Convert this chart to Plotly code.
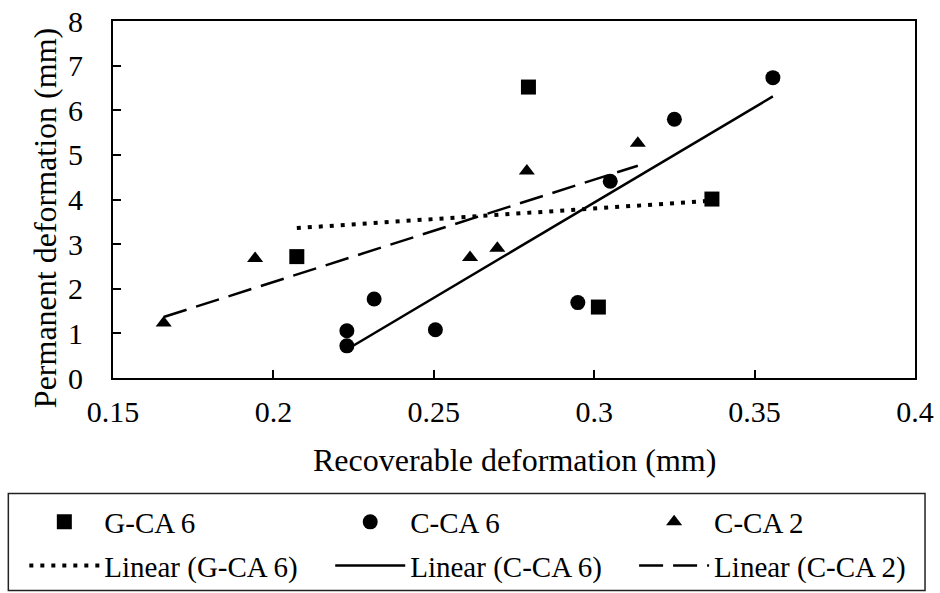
import numpy as np
import plotly.graph_objects as go

# values
gca6_x = [0.2073, 0.2795, 0.3013, 0.3367]
gca6_y = [2.72, 6.52, 1.59, 4.01]

cca6_x = [0.2229, 0.2229, 0.2314, 0.2505, 0.2949, 0.3050, 0.3250, 0.3557]
cca6_y = [1.06, 0.72, 1.77, 1.08, 1.69, 4.41, 5.80, 6.73]

cca2_x = [0.1658, 0.1943, 0.2613, 0.2698, 0.2790, 0.3136]
cca2_y = [1.23, 2.68, 2.70, 2.91, 4.64, 5.26]

x_ticks = [0.15, 0.2, 0.25, 0.3, 0.35, 0.4]
y_ticks = [0, 1, 2, 3, 4, 5, 6, 7, 8]

FONT = "Liberation Serif, Times New Roman, serif"


def trend(xs, ys):
    # least squares line over the range of the series, like an Excel linear trendline
    k, b = np.polyfit(xs, ys, 1)
    xe = [min(xs), max(xs)]
    return xe, [k * v + b for v in xe]


series = [
    ("G-CA 6", gca6_x, gca6_y, "square", 15, dict(width=4, dash="4px,7px")),
    ("C-CA 6", cca6_x, cca6_y, "circle", 15, dict(width=2.5)),
    ("C-CA 2", cca2_x, cca2_y, "triangle-up", 14, dict(width=2.5, dash="24px,10px")),
]
legend_ids = ["legend", "legend2", "legend3"]

fig = go.Figure()

# one small vertical legend per series (marker on top, trendline below)
for i, (name, xs, ys, sym, sz, ln) in enumerate(series):
    fig.add_trace(go.Scatter(x=xs, y=ys, mode="markers", name=name,
                             legend=legend_ids[i], legendgroup="m%d" % i,
                             marker=dict(symbol=sym, size=sz, color="black")))
    tx, ty = trend(xs, ys)
    fig.add_trace(go.Scatter(x=tx, y=ty, mode="lines", name="Linear (%s)" % name,
                             legend=legend_ids[i], legendgroup="l%d" % i,
                             line=dict(color="black", **ln)))

axis_common = dict(showline=True, linecolor="black", linewidth=2, mirror=True,
                   ticks="inside", ticklen=8, tickwidth=2, tickcolor="black",
                   showgrid=False, zeroline=False, automargin=False,
                   tickfont=dict(family=FONT, size=30, color="black"))

fig.update_xaxes(range=[0.15, 0.4], tickvals=x_ticks,
                 ticktext=[("%g" % v) for v in x_ticks], ticklabelstandoff=6,
                 **axis_common)
fig.update_yaxes(range=[0, 8], tickvals=y_ticks, ticklabelstandoff=22,
                 **axis_common)

fig.add_annotation(text="Recoverable deformation (mm)", xref="paper", yref="paper",
                   x=0.5, y=-0.229, xanchor="center", yanchor="middle", showarrow=False,
                   font=dict(family=FONT, size=32, color="black"))
fig.add_annotation(text="Permanent deformation (mm)", xref="paper", yref="paper",
                   x=-0.0855, y=0.449, xanchor="center", yanchor="middle", showarrow=False,
                   textangle=-90, font=dict(family=FONT, size=32, color="black"))

# frame around the three legend columns
fig.add_shape(type="rect", xref="paper", yref="paper",
              x0=-0.1305, x1=1.0125, y0=-0.5953, y1=-0.3238,
              line=dict(color="#222", width=1.5), fillcolor="rgba(0,0,0,0)")

leg_common = dict(orientation="v", y=-0.332, xanchor="left", yanchor="top",
                  traceorder="grouped", tracegroupgap=3, itemwidth=70,
                  bgcolor="rgba(0,0,0,0)", borderwidth=0,
                  font=dict(family=FONT, size=29, color="black"))

fig.update_layout(
    width=940, height=593,
    margin=dict(l=113, r=25, t=21, b=215, autoexpand=False),
    paper_bgcolor="white", plot_bgcolor="white",
    font=dict(family=FONT, color="black"),
    showlegend=True,
    legend=dict(x=(24 - 112.7) / 802.3, **leg_common),
    legend2=dict(x=(330 - 112.7) / 802.3, **leg_common),
    legend3=dict(x=(634 - 112.7) / 802.3, **leg_common),
)

# drop the browser's default body margin so the figure sits at the window corner
fig.write_html("out.html", config={"displayModeBar": False},
               post_script="document.body.style.margin='0';")
